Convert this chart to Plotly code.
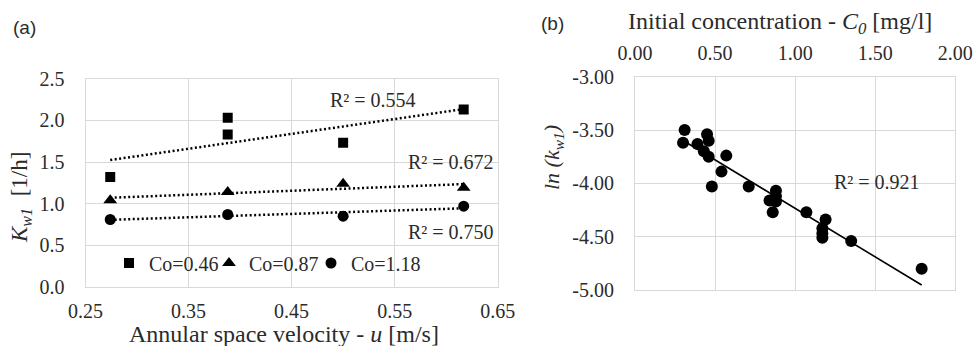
import numpy as np
import plotly.graph_objects as go

# ---------- data panel (a) ----------
u_sq = [0.274, 0.388, 0.388, 0.500, 0.617]
k_sq = [1.32, 2.03, 1.83, 1.73, 2.13]
u_tri = [0.274, 0.388, 0.500, 0.617]
k_tri = [1.04, 1.14, 1.24, 1.19]
u_cir = [0.274, 0.388, 0.500, 0.617]
k_cir = [0.81, 0.87, 0.85, 0.97]
series_names = ["Co=0.46", "Co=0.87", "Co=1.18"]
r2_a = ["R² = 0.554", "R² = 0.672", "R² = 0.750"]
xticks_a = [0.25, 0.35, 0.45, 0.55, 0.65]
yticks_a = [0.0, 0.5, 1.0, 1.5, 2.0, 2.5]

# ---------- data panel (b) ----------
c0 = [0.31, 0.30, 0.39, 0.45, 0.46, 0.43, 0.46, 0.57, 0.54, 0.48, 0.71, 0.88,
      0.84, 0.88, 0.86, 0.88, 1.07, 1.19, 1.17, 1.17, 1.17, 1.35, 1.79]
lnk = [-3.50, -3.62, -3.63, -3.54, -3.60, -3.70, -3.75, -3.74, -3.89, -4.03, -4.03, -4.07,
       -4.16, -4.17, -4.27, -4.12, -4.27, -4.34, -4.42, -4.47, -4.51, -4.54, -4.80]
r2_b = "R² = 0.921"
xticks_b = [0.0, 0.5, 1.0, 1.5, 2.0]
yticks_b = [-5.0, -4.5, -4.0, -3.5, -3.0]

SERIF = "Liberation Serif"
SANS = "Liberation Sans"
TXT = "#2b2b2b"
GRID = "#d9d9d9"


def trend(x, y):
    p = np.polyfit(x, y, 1)
    xs = np.array([min(x), max(x)])
    return xs, np.polyval(p, xs)


def fmt(vals, d):
    return [f"{v:.{d}f}" for v in vals]


fig = go.Figure()

markers = [("square", 10, u_sq, k_sq), ("triangle-up", 12, u_tri, k_tri), ("circle", 11, u_cir, k_cir)]
legend_ids = ["legend", "legend2", "legend3"]
for (sym, sz, xx, yy), nm in zip(markers, series_names):
    tx, ty = trend(xx, yy)
    fig.add_trace(go.Scatter(x=tx, y=ty, mode="lines", showlegend=False,
                             line=dict(color="black", width=2.5, dash="2px,2.5px"),
                             xaxis="x", yaxis="y", hoverinfo="skip"))
for (sym, sz, xx, yy), nm, lg in zip(markers, series_names, legend_ids):
    fig.add_trace(go.Scatter(x=xx, y=yy, mode="markers", name=nm, legend=lg,
                             marker=dict(symbol=sym, size=sz, color="black"),
                             xaxis="x", yaxis="y"))

tx, ty = trend(c0, lnk)
fig.add_trace(go.Scatter(x=tx, y=ty, mode="lines", showlegend=False,
                         line=dict(color="black", width=1.6), xaxis="x2", yaxis="y2"))
fig.add_trace(go.Scatter(x=c0, y=lnk, mode="markers", showlegend=False,
                         marker=dict(symbol="circle", size=12, color="black"),
                         xaxis="x2", yaxis="y2"))

W, H = 975, 346


def ax(**kw):
    d = dict(showgrid=True, gridcolor=GRID, gridwidth=1, zeroline=False,
             showline=True, linecolor=GRID, linewidth=1, mirror=True, automargin=False,
             ticks="", tickfont=dict(family=SERIF, size=20, color=TXT))
    d.update(kw)
    return d


def leg(xpix):
    return dict(orientation="h", x=xpix / W, y=1 - 263 / H, xanchor="left", yanchor="middle",
                bgcolor="rgba(0,0,0,0)", font=dict(family=SERIF, size=20, color=TXT),
                itemwidth=30)


fig.update_layout(
    width=W, height=H, margin=dict(l=0, r=0, t=0, b=0, autoexpand=False),
    paper_bgcolor="white", plot_bgcolor="white",
    xaxis=ax(domain=[85.5 / W, 497.7 / W], range=[0.25, 0.65], tickvals=xticks_a,
             ticktext=fmt(xticks_a, 2), anchor="y", ticklabelstandoff=6),
    yaxis=ax(domain=[1 - 287 / H, 1 - 78.7 / H], range=[0, 2.5], tickvals=yticks_a,
             ticktext=fmt(yticks_a, 1), anchor="x", ticklabelstandoff=16),
    xaxis2=ax(domain=[635 / W, 955.3 / W], range=[0, 2], tickvals=xticks_b,
              ticktext=fmt(xticks_b, 2), side="top", anchor="y2", ticklabelstandoff=8),
    yaxis2=ax(domain=[1 - 290 / H, 1 - 76.7 / H], range=[-5, -3], tickvals=yticks_b,
              ticktext=fmt(yticks_b, 2), anchor="x2", ticklabelstandoff=16),
    legend=leg(109), legend2=leg(209), legend3=leg(311),
    showlegend=True,
)

ann = []


def A(text, x, y, xref="paper", yref="paper", size=20, fam=SERIF, angle=0):
    ann.append(dict(text=text, x=x, y=y, xref=xref, yref=yref, showarrow=False,
                    xanchor="center", yanchor="middle", textangle=angle,
                    font=dict(family=fam, size=size, color=TXT)))


A(r2_a[0], 0.529, 2.245, "x", "y")
A(r2_a[1], 0.605, 1.504, "x", "y")
A(r2_a[2], 0.605, 0.664, "x", "y")
A(r2_b, 1.509, -3.99, "x2", "y2")
A("Annular space velocity - <i>u</i> [m/s]", 284 / W, 1 - 334 / H, size=24)
A("<i>K</i><sub><i>w1</i></sub>  [1/h]", 21 / W, 1 - 198 / H, size=23, angle=-90)
A("Initial concentration - <i>C<sub>0</sub></i> [mg/l]", 780 / W, 1 - 23 / H, size=24)
A("<i>ln (k<sub>w1</sub>)</i>", 553 / W, 1 - 158 / H, size=22, angle=-90)
A("(a)", 24 / W, 1 - 27 / H, size=19, fam=SANS)
A("(b)", 552 / W, 1 - 24 / H, size=19, fam=SANS)
fig.update_layout(annotations=ann)

fig.write_html("out.html", config={"displayModeBar": False},
               post_script="document.body.style.margin='0';document.body.style.overflow='hidden';")
